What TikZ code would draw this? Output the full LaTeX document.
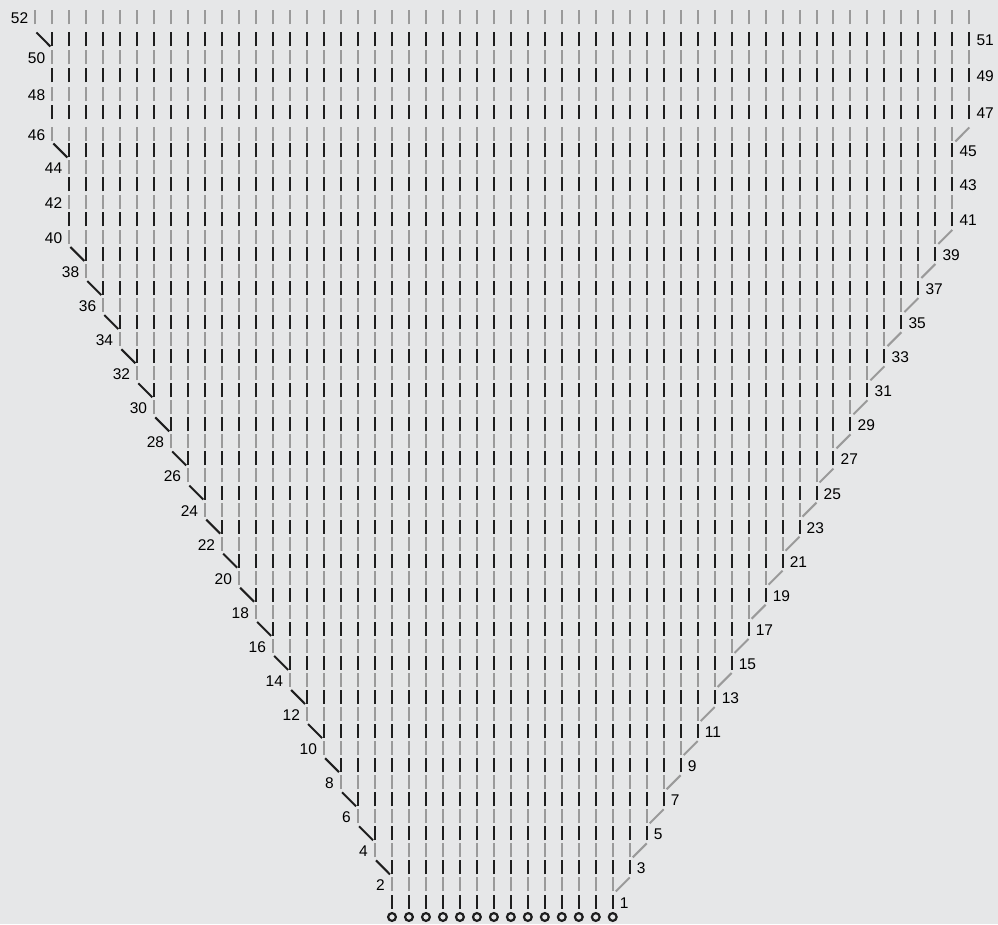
\documentclass[tikz,border=0pt]{standalone}
\usepackage{fontspec}
\setmainfont{Liberation Sans}
\definecolor{bg}{HTML}{E6E7E8}
\definecolor{ink}{HTML}{1E1E1E}
\definecolor{pale}{HTML}{9A9A9A}
\begin{document}
\begin{tikzpicture}[x=1pt,y=1pt,
  tick/.style={line width=2pt},
  lbl/.style={font=\fontsize{15.5}{15.5}\selectfont, inner sep=0pt, text=black},
  yo/.style={draw=ink, line width=2.2pt}]
\fill[bg] (0,0) rectangle (998,924);
\useasboundingbox (0,0) rectangle (998,924);
\def\topL{{-19,-19,-19,-19,-19,-20,-20,-20,-20,-20,-20,-21}}
\def\topR{{33,33,33,33,33,33,34,34,34,34,34,34}}
\def\topld{{0,0,0,0,1,0,0,0,0,0,1,0}}
\def\toprd{{0,0,0,0,0,1,0,0,0,0,0,0}}
\def\topy{{219.5,202.5,184.5,167.5,150.5,134.5,112.5,94.5,75.5,57.5,39.5,17.5}}
\foreach \r in {1,...,52} {
  \ifnum\r<41
    \ifodd\r
      \ifnum\r=1 \def\L{0}\def\ld{0}\else \pgfmathtruncatemacro\L{(3-\r)/2}\def\ld{1}\fi
      \pgfmathtruncatemacro\R{13+(\r-1)/2}\def\rd{0}
    \else
      \pgfmathtruncatemacro\L{(2-\r)/2}\def\ld{0}
      \pgfmathtruncatemacro\R{12+\r/2}\def\rd{1}
    \fi
    \pgfmathsetmacro\yc{924-(901.5-(\r-1)*17.04)}
  \else
    \pgfmathtruncatemacro\L{\topL[\r-41]}
    \pgfmathtruncatemacro\R{\topR[\r-41]}
    \pgfmathtruncatemacro\ld{\topld[\r-41]}
    \pgfmathtruncatemacro\rd{\toprd[\r-41]}
    \pgfmathsetmacro\yc{924-\topy[\r-41]}
  \fi
  \ifodd\r \def\col{ink}\else \def\col{pale}\fi
  \foreach \c in {\L,...,\R} {
    \draw[tick,\col] ({392+16.98*\c},\yc-7) -- ++(0,14);
  }
  \ifnum\ld=1
    \draw[tick,\col] ({392+16.98*(\L-1)+1},\yc+7) -- ({392+16.98*\L-2},\yc-7);
  \fi
  \ifnum\rd=1
    \draw[tick,\col] ({392+16.98*\R+3},\yc-7) -- ({392+16.98*(\R+1)},\yc+7);
  \fi
  \ifodd\r
    \node[lbl,anchor=base west] (l\r) at ({392+16.98*\R+7},\yc-6.5) {\r};
  \else
    \node[lbl,anchor=base east] (l\r) at ({392+16.98*\L-7},\yc-6.5) {\r};
  \fi
}
\foreach \c in {0,...,13} {
  \draw[yo] ({392+16.98*\c},7) circle (3.9pt);
}
\end{tikzpicture}
\end{document}
